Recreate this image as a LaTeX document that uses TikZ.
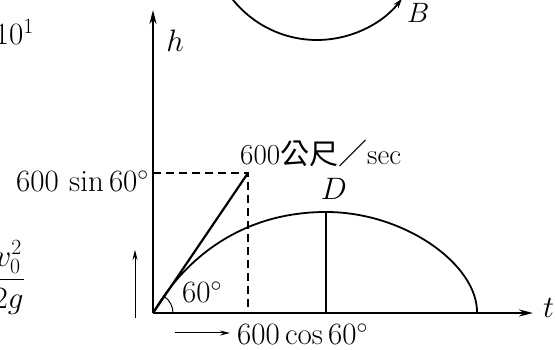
\RequirePackage{fix-cm}
\documentclass[tikz,border=0pt]{standalone}
\usepackage{fontspec}
\newfontfamily\cjk{Noto Sans CJK TC}
\usetikzlibrary{arrows.meta,positioning}

\begin{document}
\begin{tikzpicture}[
  x=1pt, y=1pt,
  lbl/.style={inner sep=0pt, font=\fontsize{31}{34}\selectfont},
  axis/.style={line width=2.4pt, -{Stealth[length=14pt,width=7pt]}},
  orbit/.style={line width=1.8pt},
  guide/.style={line width=1.2pt, dash pattern=on 8pt off 5pt},
  hint/.style={line width=1pt, -{Stealth[length=10pt,width=5pt]}},
]
  \useasboundingbox (0,0) rectangle (555,350);
  \clip (0,0) rectangle (555,350);

  % Axes h and t
  \coordinate (o) at (153,37);
  \coordinate (htop) at (153,340);
  \coordinate (tend) at (533,37);
  \draw[axis] (o) -- (htop);
  \draw[axis] (o) -- (tend);
  \node[lbl, anchor=base] (h) at (175,298) {$h$};
  \node[lbl, anchor=base west] (t) at (543,32) {$t$};

  % Initial velocity and its components
  \coordinate (v) at (248,177);
  \coordinate (vx) at (248,37);
  \coordinate (vy) at (153,177);
  \draw[guide] (vy) -- (v) -- (vx);
  \draw[line width=2.2pt] (o) -- (v);
  \draw[line width=1pt] ([shift={(20,0)}]o) arc (0:56:20);
  \node[lbl, anchor=base west] (ang) at (182,47) {$60^{\circ}$};
  \node[lbl, anchor=base west, font=\fontsize{29}{32}\selectfont] (speed) at (240,185) {600{\cjk 公尺／}sec};
  \node[lbl, anchor=base east] (vsin) at (149,158) {$600\,\sin 60^{\circ}$};
  \node[lbl, anchor=base west] (vcos) at (237,5) {$600\cos 60^{\circ}$};

  % Trajectory with top point D
  \coordinate (d) at (326,138);
  \coordinate (e) at (477,37);
  \draw[orbit] (o) .. controls (190,100) and (250,138) .. (d)
    .. controls (405,138) and (478,85) .. (e);
  \draw[line width=2.2pt] (d) -- (d |- o);
  \node[lbl, anchor=base] (dlbl) at (334,150) {$D$};

  % Small direction arrows
  \coordinate (up0) at (135,32);
  \coordinate (up1) at (135,100);
  \coordinate (rt0) at (175,17);
  \coordinate (rt1) at (230,17);
  \draw[hint] (up0) -- (up1);
  \draw[hint] (rt0) -- (rt1);

  % Circle arc at top with B
  \coordinate (c) at (317,418);
  \draw[orbit, -{Stealth[length=10pt,width=6pt]}] (c) ++(215:108) arc (215:322:108);
  \node[lbl, anchor=base west, font=\fontsize{28}{30}\selectfont] (b) at (407,327) {$B$};

  % Fragments at left edge
  \node[lbl, anchor=base east] (pow) at (34,305) {$10^{1}$};
  \node[lbl, anchor=base east] (frac) at (25,63) {$\displaystyle\frac{v_0^2}{2g}$};
\end{tikzpicture}
\end{document}
